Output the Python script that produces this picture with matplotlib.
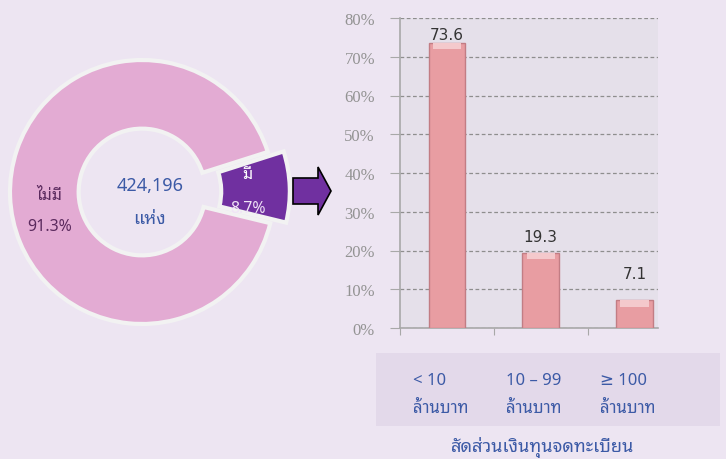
import matplotlib
matplotlib.use("Agg")
import numpy as np
import matplotlib.pyplot as plt
from matplotlib.patches import Polygon, Rectangle
from matplotlib.transforms import blended_transform_factory

plt.rcParams['font.family'] = ['Noto Sans Thai Looped', 'DejaVu Sans']

# donut: share of firms with / without registered capital data
pie_labels = ['มี', 'ไม่มี']
pie_values = [8.7, 91.3]
total_text = '424,196'
total_unit = 'แห่ง'

# bars: share by registered capital
cat_top = ['< 10', '10 – 99', '≥ 100']
cat_bottom = ['ล้านบาท', 'ล้านบาท', 'ล้านบาท']
bar_values = [73.6, 19.3, 7.1]
y_ticks = [0, 10, 20, 30, 40, 50, 60, 70, 80]
x_title = 'สัดส่วนเงินทุนจดทะเบียน'

W, H = 726, 460
bg = '#EDE5F2'
blue = '#3C5AA6'


def fx(x):
    return x / W


def fy(y):
    return 1 - y / H


fig = plt.figure(figsize=(7.26, 4.6), dpi=100, facecolor=bg)

# ---- donut ----
R = 132.0
cx, cy = 142, 193
axp = fig.add_axes([0, fy(338), fx(290), 290 / H])
start = -pie_values[0] * 3.6 / 2 + 2
wedges, _ = axp.pie(pie_values, colors=['#7030A0', '#E3ABD3'], startangle=start,
                    counterclock=True, explode=[0.12, 0], radius=1,
                    wedgeprops=dict(width=0.52, edgecolor='#F2F2F2', linewidth=3))
axp.set_xlim(-cx / R, (290 - cx) / R)
axp.set_ylim(-145 / R, 145 / R)
axp.set_aspect('equal')
axp.axis('off')

# name / percentage offsets around each wedge's label point
offsets = [(0.11, -0.15), (0.0, -0.23)]
for w, lab, val, r, col, (o1, o2) in zip(wedges, pie_labels, pie_values,
                                         [0.80, 0.70], ['white', '#5B2A5E'], offsets):
    ang = np.deg2rad((w.theta1 + w.theta2) / 2)
    x, y = r * np.cos(ang), r * np.sin(ang)
    axp.text(x, y + o1, lab, ha='center', va='center', fontsize=11.5,
             fontweight='bold', color=col)
    axp.text(x, y + o2, f'{val}%', ha='center', va='center', fontsize=11.5,
             color=col if col != 'white' else '#F0E4F7')

axp.text(0.06, 0.05, total_text, ha='center', va='center', fontsize=13, color=blue)
axp.text(0.06, -0.20, total_unit, ha='center', va='center', fontsize=13, color=blue)

# ---- arrow ----
arrow = [(293, 179), (318, 179), (318, 168), (331, 192), (318, 216), (318, 205), (293, 205)]
fig.patches.append(Polygon([(fx(a), fy(b)) for a, b in arrow], closed=True,
                           transform=fig.transFigure, facecolor='#7030A0',
                           edgecolor='black', linewidth=1.2))

# ---- bar chart ----
ax = fig.add_axes([fx(400), fy(329), fx(258), 310 / H], facecolor='#E5E0EA')
x = np.arange(len(bar_values))
ax.bar(x, bar_values, width=0.39, color='#E89DA2', edgecolor='#C27D84',
       linewidth=1, zorder=3)
cap = 1.6
ax.bar(x, [cap] * len(x), bottom=[v - cap for v in bar_values], width=0.30,
       color='#F4C9CC', linewidth=0, zorder=4)

label_pad = [0.3, 2.4, 4.9]
for i, v in enumerate(bar_values):
    ax.text(i, v + label_pad[i], f'{v}', ha='center', va='bottom', fontsize=11,
            color='#333333', family='DejaVu Sans')

ax.set_xlim(-0.5, 2.25)
ax.set_ylim(0, 80)
ax.set_yticks(y_ticks)
ax.set_yticklabels([f'{t}%' for t in y_ticks], family='Liberation Serif',
                   fontsize=12, color='#939393')
ax.set_xticks([-0.5, 0.5, 1.5])
ax.set_xticklabels([])
ax.tick_params(axis='y', length=7, color='#A8A8A8', pad=11)
ax.tick_params(axis='x', length=5, color='#A8A8A8')
ax.grid(axis='y', color='#8E8E8E', linestyle=(0, (3, 2)), linewidth=0.9, zorder=1)
for s in ['top', 'right']:
    ax.spines[s].set_visible(False)
for s in ['left', 'bottom']:
    ax.spines[s].set_color('#A8A8A8')
    ax.spines[s].set_linewidth(1.2)

# category box under the bars
fig.patches.append(Rectangle((fx(376), fy(427)), fx(720 - 376), (427 - 354) / H,
                             transform=fig.transFigure, facecolor='#E3D9EA',
                             edgecolor='none'))
tr = blended_transform_factory(ax.transData, fig.transFigure)
for i, (a, b) in enumerate(zip(cat_top, cat_bottom)):
    fig.text(i - 0.07, fy(395), f'{a}\n{b}', transform=tr, ha='center',
             va='center', multialignment='left', fontsize=12, color=blue,
             linespacing=2.0)

fig.text(fx(543), fy(448), x_title, ha='center', va='center', fontsize=13,
         fontweight='bold', color=blue)

fig.savefig('out.png', dpi=100, facecolor=bg)
